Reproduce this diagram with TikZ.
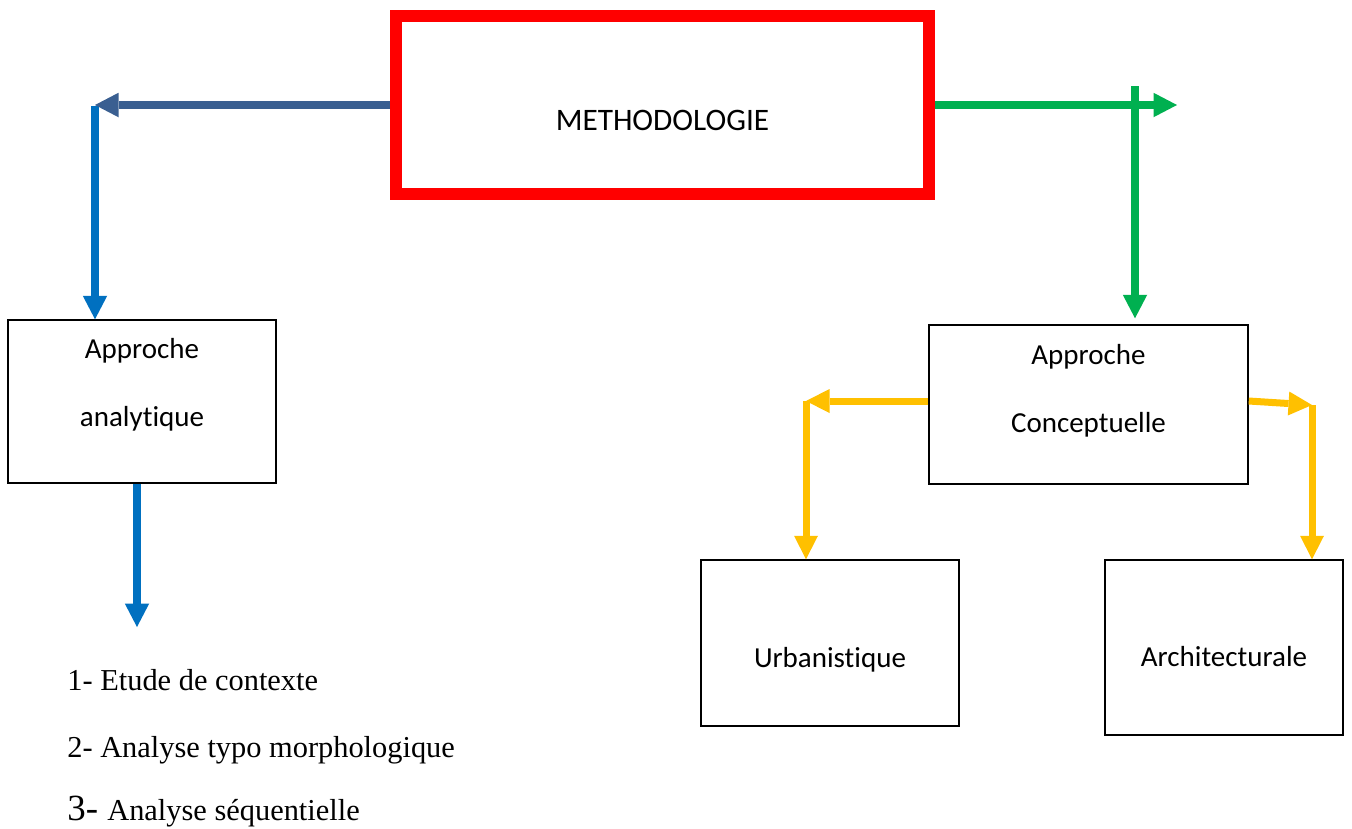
\documentclass[tikz,border=0pt]{standalone}
\usepackage{fontspec}
\setmainfont[Ligatures=NoCommon]{Carlito}
\newfontfamily\listfont{Liberation Serif}
\usetikzlibrary{arrows.meta,positioning,calc}
\definecolor{methred}{HTML}{FF0000}
\definecolor{slate}{HTML}{3A5F91}
\definecolor{anablue}{HTML}{0070C0}
\definecolor{congreen}{HTML}{00B050}
\definecolor{subgold}{HTML}{FFC000}
\tikzset{
  methbox/.style={draw=methred, line width=0.24cm, minimum width=10.66cm, minimum height=3.56cm},
  appbox/.style={draw=black, line width=0.85pt},
  boxtxt/.style={align=center, text=black, font=\fontsize{16.5}{38.5}\selectfont},
  listtxt/.style={anchor=base west, inner sep=0pt, font=\listfont\fontsize{17.3}{20}\selectfont},
  arr/.style={-{Triangle[length=4.7mm,width=4.9mm,line width=0pt]}, line width=0.16cm},
  sarr/.style={arr, color=slate},
  barr/.style={arr, color=anablue},
  garr/.style={arr, color=congreen},
  yarr/.style={-{Triangle[length=4.7mm,width=4.8mm,line width=0pt]}, line width=0.14cm, color=subgold}}
\begin{document}
\begin{tikzpicture}
    \useasboundingbox (0,0) rectangle (27.04,-16.56);
    \node[methbox, label={[boxtxt, font=\fontsize{17.8}{20}\selectfont, yshift=-0.3cm]center:METHODOLOGIE}] (meth) at (13.25,-2.10) {};
    \node[appbox, minimum width=5.36cm, minimum height=3.26cm,
      label={[boxtxt, yshift=0.33cm]center:{Approche\\analytique}}] (ana) at (2.84,-8.03) {};
    \node[appbox, minimum width=6.38cm, minimum height=3.18cm,
      label={[boxtxt, yshift=0.28cm]center:{Approche\\Conceptuelle}}] (conc) at (21.77,-8.09) {};
    \node[appbox, minimum width=5.16cm, minimum height=3.32cm,
      label={[boxtxt, yshift=-0.33cm]center:Urbanistique}] (urb) at (16.6,-12.86) {};
    \node[appbox, minimum width=4.76cm, minimum height=3.5cm,
      label={[boxtxt, yshift=-0.18cm]center:Architecturale}] (arch) at (24.48,-12.95) {};
    \node[listtxt] (l1) at (1.34,-13.8) {1- Etude de contexte};
    \node[listtxt] (l2) at (1.34,-15.14) {2- Analyse typo morphologique};
    \node[listtxt] (l3) at (1.34,-16.4) {{\fontsize{21}{22}\selectfont 3- }Analyse séquentielle};
    \coordinate (lcorner) at (1.9,-2.12);
    \coordinate (lend) at (2.74,-12.54);
    \coordinate (rtop) at (22.7,-1.72);
    \coordinate (rend) at (23.54,-2.12);
    \coordinate (ycl) at (16.12,-8.02);
    \coordinate (ycr) at (26.24,-8.1);
    \draw[barr] (lcorner) -- (lcorner |- ana.north);
    \draw[sarr] (meth.west) -- (meth.west -| lcorner);
    \draw[barr] (lend |- ana.south) -- (lend);
    \draw[garr] (meth.east) -- (meth.east -| rend);
    \draw[garr] (rtop) -- ($(rtop |- conc.north)+(0,0.12)$);
    \draw[yarr] (conc.west |- ycl) -- (ycl);
    \draw[yarr] (ycl) -- (ycl |- urb.north);
    \draw[yarr] (conc.east |- ycl) -- (ycr);
    \draw[yarr] (ycr) -- (ycr |- arch.north);
  \end{tikzpicture}
\end{document}
